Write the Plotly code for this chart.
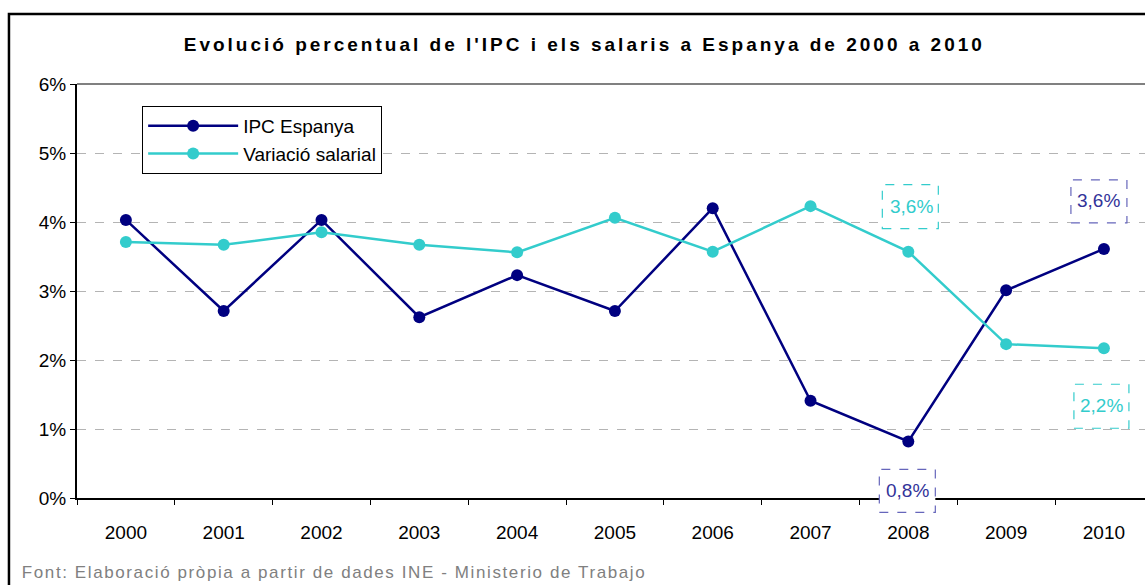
import plotly.graph_objects as go

years = ["2000", "2001", "2002", "2003", "2004", "2005", "2006", "2007", "2008", "2009", "2010"]
ipc = [4.03, 2.71, 4.03, 2.62, 3.23, 2.71, 4.20, 1.41, 0.82, 3.01, 3.61]
salaris = [3.71, 3.67, 3.85, 3.67, 3.56, 4.06, 3.57, 4.23, 3.57, 2.23, 2.17]
ytick_vals = [0, 1, 2, 3, 4, 5, 6]
ytick_text = ["0%", "1%", "2%", "3%", "4%", "5%", "6%"]

title_text = "Evolució percentual de l'IPC i els salaris a Espanya de 2000 a 2010"
source_text = "Font: Elaboració pròpia a partir de dades INE - Ministerio de Trabajo"

NAVY = "#000080"
CYAN = "#33CCCC"
FONT = "Liberation Sans, Arial, sans-serif"
FS = 19
YMAX = 6

fig = go.Figure()
fig.add_trace(go.Scatter(x=years, y=ipc, name="IPC Espanya", mode="lines+markers",
                         line=dict(color=NAVY, width=2.5), marker=dict(color=NAVY, size=12),
                         legendgroup="a"))
fig.add_trace(go.Scatter(x=years, y=salaris, name="Variació salarial", mode="lines+markers",
                         line=dict(color=CYAN, width=2.5), marker=dict(color=CYAN, size=12),
                         legendgroup="b"))

def fmt(v):
    return f"{v:.1f}".replace(".", ",") + "%"

# labels: (series, index, text colour, box colour, text xshift, yshift, box x0,x1,y0,y1 in px)
labels = [
    (ipc, 8, "#333399", "#6666BB", -1, -49, -29, 27, -71, -28),
    (salaris, 8, CYAN, CYAN, 3, 45, -26, 30, 23, 67),
    (ipc, 10, "#333399", "#6666BB", -5, 48, -33, 23, 26, 69),
    (salaris, 10, CYAN, CYAN, -2, -57, -30, 25, -80, -36),
]
for ser, i, tc, bc, xs, ys, bx0, bx1, by0, by1 in labels:
    fig.add_annotation(x=i, y=ser[i], xref="x", yref="y", text=fmt(ser[i]),
                       showarrow=False, xshift=xs, yshift=ys,
                       font=dict(family=FONT, size=FS, color=tc))
    fig.add_shape(type="rect", xref="x", yref="paper", xsizemode="pixel", ysizemode="pixel",
                  xanchor=i, yanchor=ser[i] / YMAX, x0=bx0, x1=bx1, y0=by0, y1=by1,
                  line=dict(color=bc, width=1.2, dash="dash"), fillcolor="white",
                  layer="above")

# outer frame
fig.add_shape(type="rect", xref="paper", yref="paper", x0=-0.0637, x1=1.2, y0=-0.4, y1=1.169,
              line=dict(color="black", width=2.5), layer="above")
# top plot border
fig.add_shape(type="line", xref="paper", yref="paper", x0=0, x1=1, y0=1, y1=1,
              line=dict(color="#808080", width=2))

fig.add_annotation(text=source_text, xref="paper", yref="paper", x=-0.002, y=-0.181,
                   xanchor="left", yanchor="middle", showarrow=False,
                   font=dict(family=FONT, size=17, color="#808080"))

fig.update_layout(
    width=1145, height=585,
    margin=dict(l=77, r=0, t=84, b=87),
    paper_bgcolor="white", plot_bgcolor="white",
    title=dict(text=title_text, x=0.475, xref="paper", xanchor="center",
               y=1 - 44 / 585, yref="container", yanchor="middle",
               font=dict(family=FONT, size=FS, color="black", weight="bold")),
    legend=dict(x=0.061, y=0.947, xanchor="left", yanchor="top",
                bordercolor="black", borderwidth=1, bgcolor="white",
                font=dict(family=FONT, size=FS, color="black"),
                tracegroupgap=8, traceorder="normal", itemwidth=90),
    showlegend=True,
)
fig.update_xaxes(type="category", range=[-0.5, 10.42], tickson="boundaries",
                 ticks="outside", ticklen=5, tickcolor="black",
                 showline=True, linecolor="black", linewidth=2, showgrid=False,
                 ticklabelstandoff=16,
                 tickfont=dict(family=FONT, size=FS, color="black"))
fig.update_yaxes(range=[0, YMAX], tickvals=ytick_vals, ticktext=ytick_text,
                 ticks="outside", ticklen=5, tickcolor="black",
                 showline=True, linecolor="black", linewidth=2,
                 showgrid=True, gridcolor="#B4B4B4", griddash="dash", gridwidth=1,
                 zeroline=False,
                 tickfont=dict(family=FONT, size=FS, color="black"))

post = """
var s=document.createElement('style');
s.innerHTML='body{margin:0;} .gtitle{letter-spacing:3px;} .annotation[data-index="4"] text{letter-spacing:1.6px;}';
document.head.appendChild(s);
"""
fig.write_html("out.html", post_script=post, config={"displayModeBar": False})
